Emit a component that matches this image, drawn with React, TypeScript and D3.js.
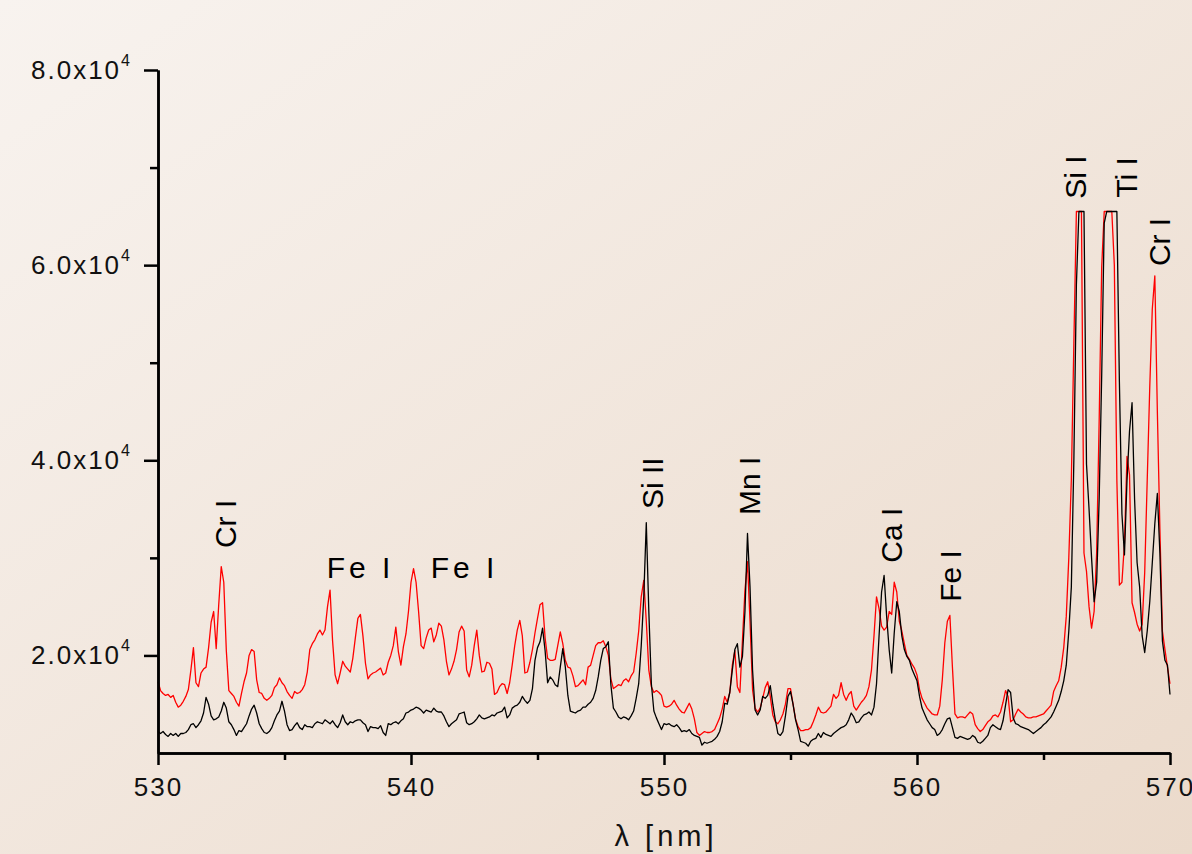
import React, { useRef, useEffect } from 'react';
import * as d3 from 'd3';

const WIDTH = 1192;
const HEIGHT = 854;
const FONT = "'Liberation Sans', Arial, Helvetica, sans-serif";

// wavelength grid of both spectra (nm)
const lambdaStart = 530;
const lambdaStep = 0.1;

// intensity in 10^3 counts, one value per 0.1 nm from 530.0 to 570.0 nm (detector saturates at 65.5)
const redCounts = [
    17.3, 16.4, 16.1, 15.9, 16.0, 15.7, 15.9, 15.2, 14.7, 14.9,
    15.3, 15.8, 16.5, 18.5, 20.8, 17.2, 16.8, 18.2, 18.6, 18.8,
    20.8, 23.4, 24.5, 20.7, 25.2, 29.1, 27.5, 20.5, 16.4, 16.1,
    15.8, 15.2, 14.8, 16.1, 17.3, 18.2, 20.0, 20.6, 20.4, 17.5,
    16.2, 16.1, 15.6, 15.4, 15.6, 15.9, 16.7, 17.0, 17.7, 17.2,
    16.9, 16.3, 15.9, 15.6, 16.3, 16.1, 16.2, 16.5, 17.0, 18.3,
    20.6, 21.2, 21.6, 22.2, 22.6, 22.1, 22.6, 25.0, 26.7, 21.5,
    18.0, 17.1, 18.2, 19.4, 18.9, 18.6, 18.3, 19.7, 21.8, 23.8,
    24.2, 22.0, 19.2, 17.6, 18.0, 18.2, 18.3, 18.5, 18.7, 18.0,
    18.2, 19.3, 20.0, 21.0, 22.9, 20.4, 19.0, 20.9, 22.2, 24.5,
    27.5, 28.9, 27.5, 24.5, 21.0, 20.7, 21.8, 22.6, 22.8, 21.4,
    22.1, 23.3, 23.0, 21.6, 19.4, 18.0, 18.6, 19.4, 20.6, 22.4,
    23.0, 22.5, 18.5, 17.8, 19.0, 21.0, 22.6, 20.0, 18.3, 18.4,
    19.3, 19.2, 18.6, 16.0, 16.2, 16.8, 17.1, 17.0, 16.1, 17.2,
    19.0, 21.0, 22.6, 23.6, 22.0, 18.2, 18.3, 19.3, 20.6, 22.3,
    23.8, 25.2, 25.4, 21.8, 19.7, 19.5, 19.5, 19.6, 21.0, 22.4,
    21.2, 19.5, 18.8, 18.7, 17.9, 16.8, 16.9, 17.2, 17.5, 17.0,
    18.8, 19.0, 20.0, 21.0, 21.3, 21.3, 21.5, 20.9, 20.0, 17.6,
    16.6, 16.8, 17.0, 16.9, 17.4, 17.6, 17.3, 17.9, 18.3, 20.2,
    22.5, 26.0, 27.7, 23.5, 18.5, 16.8, 16.2, 16.4, 16.2, 15.9,
    14.8, 14.7, 14.8, 15.0, 15.4, 14.9, 14.5, 14.2, 14.1, 14.6,
    15.1, 14.5, 13.5, 12.1, 11.8, 12.0, 12.2, 12.1, 12.1, 12.2,
    12.4, 13.0, 13.6, 14.5, 15.8, 15.2, 16.2, 19.0, 20.5, 16.8,
    16.2, 21.5, 26.7, 29.6, 23.5, 16.5, 14.6, 14.2, 14.6, 15.6,
    16.7, 17.3, 15.8, 13.9, 13.2, 13.0, 13.4, 14.0, 15.0, 16.6,
    16.6, 15.0, 13.5, 12.7, 12.3, 12.3, 12.4, 12.4, 12.6, 13.2,
    13.9, 14.7, 14.2, 14.1, 14.2, 14.5, 14.8, 16.0, 15.6, 15.9,
    17.2, 16.0, 15.4, 16.0, 16.3, 14.8, 14.4, 14.8, 15.2, 15.5,
    15.9, 16.8, 18.5, 22.0, 26.0, 24.8, 23.0, 22.6, 22.9, 24.5,
    24.2, 27.5, 26.5, 23.5, 22.5, 21.2, 20.0, 19.6, 19.1, 18.7,
    18.0, 16.5, 15.6, 15.1, 14.6, 14.3, 14.0, 13.9, 13.9, 14.8,
    17.5, 21.3, 23.5, 24.1, 18.8, 14.0, 13.6, 13.7, 13.7, 13.6,
    13.9, 14.2, 14.0, 12.9, 12.5, 12.2, 12.4, 12.8, 13.2, 13.4,
    13.8, 13.9, 13.7, 14.2, 15.2, 16.4, 15.8, 13.2, 13.4, 14.0,
    14.5, 14.2, 14.0, 13.7, 13.6, 13.6, 13.7, 13.7, 13.8, 13.9,
    14.0, 14.3, 14.6, 14.9, 16.3, 16.9, 17.4, 18.8, 20.8, 24.0,
    30.0, 38.0, 52.0, 65.5, 65.5, 65.5, 30.5, 28.6, 25.0, 22.8,
    24.5, 30.5, 44.0, 59.8, 65.5, 65.5, 65.5, 65.5, 60.0, 37.9,
    27.2, 27.5, 31.5, 40.4, 38.5, 25.4, 24.4, 23.2, 22.5, 23.2,
    28.5, 38.0, 47.5, 55.5, 58.9, 45.0, 33.0, 22.5, 20.6, 18.8,
    17.1,
];

const blackCounts = [
    12.2, 12.0, 12.2, 11.9, 11.7, 12.0, 11.8, 12.0, 11.7, 12.0,
    12.0, 12.1, 12.4, 12.9, 13.0, 12.6, 12.9, 13.3, 14.1, 15.7,
    15.0, 13.8, 13.4, 13.5, 13.7, 14.3, 15.2, 14.6, 13.2, 12.9,
    12.4, 11.8, 12.3, 12.2, 12.6, 13.0, 13.8, 14.5, 14.9, 14.1,
    13.0, 12.5, 12.1, 12.0, 12.2, 12.6, 13.3, 13.9, 14.3, 15.3,
    14.3, 12.9, 12.3, 12.4, 12.8, 13.1, 12.6, 12.4, 12.9, 12.7,
    12.7, 12.6, 13.0, 13.2, 13.1, 13.0, 13.4, 13.2, 13.0, 13.3,
    12.9, 12.6, 13.1, 13.9, 13.2, 12.9, 13.2, 13.1, 13.3, 13.4,
    13.4, 13.1, 12.9, 12.2, 12.7, 12.6, 12.6, 12.5, 12.8, 12.1,
    11.8, 13.0, 12.9, 13.1, 13.2, 13.0, 13.3, 13.5, 14.1, 14.2,
    14.4, 14.5, 14.7, 14.6, 14.4, 14.1, 14.4, 14.3, 14.2, 14.6,
    14.3, 14.2, 14.2, 13.8, 13.2, 12.7, 13.0, 13.2, 13.4, 14.0,
    14.1, 14.2, 13.1, 12.9, 13.0, 13.2, 13.5, 13.9, 13.6, 13.5,
    13.6, 13.7, 13.9, 13.8, 14.1, 14.2, 14.3, 14.7, 13.6, 13.9,
    14.6, 14.8, 14.9, 15.2, 15.8, 15.4, 15.1, 15.4, 16.6, 19.5,
    20.8, 21.4, 22.8, 20.5, 17.2, 17.8, 17.5, 17.0, 16.8, 18.8,
    20.7, 18.8, 15.9, 14.3, 14.2, 14.1, 14.3, 14.4, 14.7, 14.7,
    15.0, 15.2, 15.6, 16.4, 17.8, 19.5, 20.7, 20.9, 21.4, 17.0,
    14.6, 14.2, 13.7, 13.5, 13.7, 13.6, 13.4, 13.8, 14.3, 15.6,
    17.1, 21.0, 26.0, 33.6, 24.5, 17.1, 14.3, 13.6, 13.0, 12.4,
    13.0, 12.9, 13.0, 12.8, 12.7, 12.9, 12.6, 12.2, 12.3, 12.2,
    12.4, 12.0, 11.8, 11.7, 11.6, 10.8, 11.1, 11.0, 11.1, 11.2,
    11.4, 11.7, 12.2, 13.2, 15.1, 15.0, 16.2, 18.5, 20.6, 21.2,
    18.8, 19.9, 24.5, 32.5, 27.0, 18.5, 14.4, 13.9, 14.4, 15.8,
    15.6, 15.9, 16.9, 15.0, 13.4, 12.0, 11.8, 12.2, 13.8, 15.8,
    16.3, 15.0, 13.4, 12.4, 11.2, 11.1, 11.0, 10.7, 11.2, 11.4,
    11.5, 12.0, 11.6, 12.1, 11.9, 11.8, 11.7, 12.0, 12.2, 12.4,
    12.6, 12.7, 12.9, 13.4, 14.1, 13.7, 13.1, 13.2, 13.6, 13.9,
    14.0, 14.2, 13.9, 14.7, 17.1, 22.0, 26.5, 28.2, 24.0, 20.6,
    18.2, 22.3, 25.5, 24.5, 22.0, 20.6, 19.9, 19.5, 18.6, 18.0,
    17.4, 15.8, 14.6, 14.0, 13.4, 13.0, 12.6, 12.4, 11.8, 12.0,
    12.4, 13.0, 13.5, 13.6, 12.6, 11.6, 11.5, 11.7, 11.6, 11.5,
    11.4, 11.5, 11.8, 11.6, 11.1, 11.0, 11.2, 11.5, 11.8, 12.6,
    12.9, 12.7, 12.5, 12.4, 13.3, 14.9, 16.5, 16.2, 13.6, 13.0,
    12.9, 12.7, 12.6, 12.5, 12.4, 12.2, 12.0, 12.2, 12.4, 12.6,
    12.9, 13.1, 13.4, 13.7, 14.2, 14.8, 15.4, 16.3, 17.4, 19.0,
    22.5, 27.0, 40.0, 58.0, 65.5, 65.5, 65.5, 39.6, 35.0, 30.0,
    25.5, 27.5, 36.0, 48.7, 64.3, 65.5, 65.5, 65.5, 65.5, 65.5,
    48.0, 34.5, 30.3, 37.9, 43.0, 45.9, 36.0, 29.5, 27.0, 22.0,
    20.3, 22.5, 25.5, 29.5, 33.5, 36.6, 30.5, 21.5, 19.5, 19.0,
    16.0,
];

const xMajorTicks = [530, 540, 550, 560, 570];
const xMinorTicks = [535, 545, 555, 565];
const yMajorTicks = [20000, 40000, 60000, 80000];
const yMinorTicks = [30000, 50000, 70000];

// line identifications: label, wavelength, intensity (10^3) where the label starts
interface LineLabel {
    text: string;
    lambda: number;
    at: number;
    vertical: boolean;
}

const lineLabels: LineLabel[] = [
    { text: 'Cr I', lambda: 532.65, at: 31.0, vertical: true },
    { text: 'Fe I', lambda: 536.67, at: 27.9, vertical: false },
    { text: 'Fe I', lambda: 540.78, at: 27.9, vertical: false },
    { text: 'Si II', lambda: 549.53, at: 35.0, vertical: true },
    { text: 'Mn I', lambda: 553.38, at: 34.4, vertical: true },
    { text: 'Ca I', lambda: 559.01, at: 29.5, vertical: true },
    { text: 'Fe I', lambda: 561.34, at: 25.5, vertical: true },
    { text: 'Si I', lambda: 566.25, at: 66.8, vertical: true },
    { text: 'Ti I', lambda: 568.3, at: 66.9, vertical: true },
    { text: 'Cr I', lambda: 569.6, at: 59.9, vertical: true },
];

const App: React.FC = () => {
    const ref = useRef<SVGSVGElement>(null);

    useEffect(() => {
        if (!ref.current) return;
        const svg = d3.select(ref.current);
        svg.selectAll('*').remove();

        const x = d3.scaleLinear().domain([530, 570]).range([158, 1170]);
        const y = d3.scaleLinear().domain([10000, 80000]).range([753, 70]);

        // paper-like background
        const grad = svg.append('defs').append('linearGradient')
            .attr('id', 'bg')
            .attr('x1', 0).attr('y1', 0).attr('x2', 1).attr('y2', 1);
        grad.append('stop').attr('offset', '0%').attr('stop-color', '#f8f3ef');
        grad.append('stop').attr('offset', '100%').attr('stop-color', '#ebdacb');
        svg.append('rect').attr('width', WIDTH).attr('height', HEIGHT).attr('fill', 'url(#bg)');

        const line = d3.line<number>()
            .x((d, i) => x(lambdaStart + i * lambdaStep))
            .y(d => y(d * 1000));

        svg.append('path')
            .datum(redCounts)
            .attr('d', line)
            .attr('fill', 'none')
            .attr('stroke', '#ff0000')
            .attr('stroke-width', 1.3)
            .attr('stroke-linejoin', 'round');

        svg.append('path')
            .datum(blackCounts)
            .attr('d', line)
            .attr('fill', 'none')
            .attr('stroke', '#000')
            .attr('stroke-width', 1.3)
            .attr('stroke-linejoin', 'round');

        // x axis
        const xAxis = svg.append('g').attr('transform', `translate(0,${y(10000)})`);
        xAxis.call(d3.axisBottom(x).tickValues(xMinorTicks).tickSize(7).tickSizeOuter(0).tickFormat(() => ''));
        const xMajor = xAxis.append('g').call(
            d3.axisBottom(x).tickValues(xMajorTicks).tickSize(12).tickSizeOuter(0).tickPadding(13)
                .tickFormat(d => d3.format('d')(d as number))
        );
        xAxis.selectAll('path, line').attr('stroke', '#000').attr('stroke-width', 2.5);
        xMajor.selectAll('text')
            .attr('fill', '#111')
            .attr('font-family', FONT)
            .attr('font-size', 26)
            .attr('letter-spacing', 2);

        // y axis
        const yAxis = svg.append('g').attr('transform', `translate(${x(530)},0)`);
        yAxis.call(d3.axisLeft(y).tickValues(yMinorTicks).tickSize(8).tickSizeOuter(0).tickFormat(() => ''));
        const yMajor = yAxis.append('g').call(
            d3.axisLeft(y).tickValues(yMajorTicks).tickSize(14).tickSizeOuter(0).tickPadding(14)
        );
        yAxis.selectAll('path, line').attr('stroke', '#000').attr('stroke-width', 2.5);
        yMajor.selectAll<SVGTextElement, number>('text')
            .attr('fill', '#111')
            .attr('font-family', FONT)
            .attr('font-size', 26)
            .each(function (d) {
                const t = d3.select(this);
                t.text(null);
                t.append('tspan').attr('letter-spacing', 2).text(`${(d / 10000).toFixed(1)}x10`);
                t.append('tspan').attr('font-size', 16).attr('dy', -13).text('4');
            });

        // axis title
        svg.append('text')
            .attr('x', x(550) + 2)
            .attr('y', 846)
            .attr('text-anchor', 'middle')
            .attr('font-family', FONT)
            .attr('font-size', 29)
            .attr('letter-spacing', 4)
            .attr('fill', '#111')
            .text('λ [nm]');

        // line identifications
        const labels = svg.append('g')
            .attr('font-family', FONT)
            .attr('font-size', 30)
            .attr('fill', '#000');
        lineLabels.forEach(l => {
            const px = x(l.lambda);
            const py = y(l.at * 1000);
            if (l.vertical) {
                labels.append('text')
                    .attr('transform', `translate(${px},${py}) rotate(-90)`)
                    .attr('dy', '0.35em')
                    .text(l.text);
            } else {
                labels.append('text')
                    .attr('x', px)
                    .attr('y', py)
                    .attr('letter-spacing', 4)
                    .text(l.text);
            }
        });
    }, []);

    return (
        <svg
            ref={ref}
            width={WIDTH}
            height={HEIGHT}
            style={{ position: 'absolute', left: 0, top: 0, display: 'block' }}
        />
    );
};

export default App;
